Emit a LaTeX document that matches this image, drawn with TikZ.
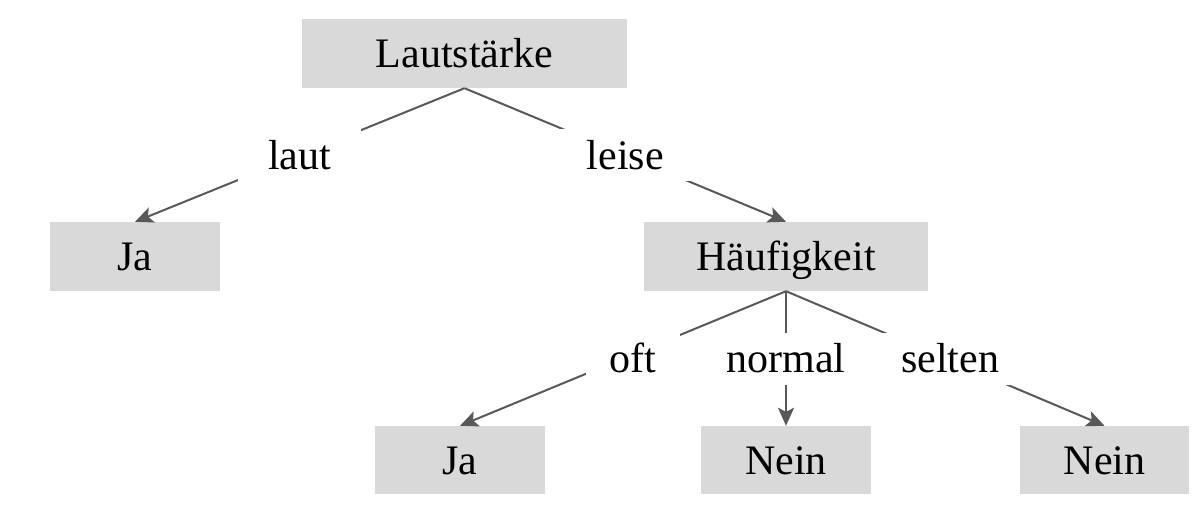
\documentclass[tikz,border=0pt]{standalone}
\usepackage{fontspec}
\setmainfont{Liberation Serif}
\usetikzlibrary{arrows.meta}
\definecolor{boxgray}{HTML}{D9D9D9}
\definecolor{edgegray}{HTML}{595959}
\begin{document}
\begin{tikzpicture}[x=1pt,y=-1pt,
  tbox/.style={fill=boxgray, inner sep=0pt, text height=28pt, text depth=0pt, font=\fontsize{42}{46}\selectfont},
  elabel/.style={fill=white, inner xsep=30pt, inner ysep=0pt, minimum height=52pt, text height=28pt, text depth=0pt, font=\fontsize{42}{46}\selectfont},
  edge/.style={draw=edgegray, line width=2pt},
  arr/.style={edge, -{Stealth[length=18pt,width=16pt,inset=4pt]}}]
\useasboundingbox (0,0) rectangle (1204,511);
\node[tbox, minimum width=325pt, minimum height=69pt] (root) at (464.5,53.5) {Lautstärke};
\node[tbox, minimum width=170pt, minimum height=69pt] (ja1) at (135,256.5) {Ja};
\node[tbox, minimum width=284pt, minimum height=69pt] (hf) at (786,256.5) {Häufigkeit};
\node[tbox, minimum width=170pt, minimum height=68pt] (ja2) at (460,460) {Ja};
\node[tbox, minimum width=170pt, minimum height=68pt] (n1) at (786,460) {Nein};
\node[tbox, minimum width=169pt, minimum height=68pt] (n2) at (1104.5,460) {Nein};
\draw[arr] (root.south) -- (ja1.north) node[elabel, midway] (l1) {laut};
\draw[arr] (root.south) -- (hf.north) node[elabel, midway] (l2) {leise};
\draw[arr] (hf.south) -- (ja2.north) node[elabel, midway, xshift=10pt, inner xsep=24pt] (l3) {oft};
\draw[arr] (hf.south) -- (n1.north) node[elabel, midway] (l4) {normal};
\draw[arr] (hf.south) -- (n2.north) node[elabel, midway, xshift=5pt, inner xsep=20pt] (l5) {selten};
\end{tikzpicture}
\end{document}
